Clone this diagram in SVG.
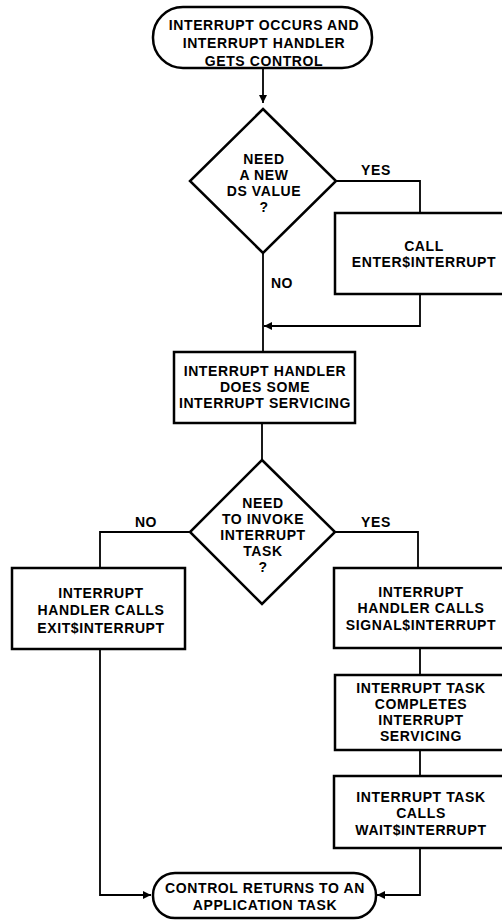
<svg xmlns="http://www.w3.org/2000/svg" width="502" height="920" viewBox="0 0 502 920">
<defs>
<marker id="arr" viewBox="0 0 10 10" refX="10" refY="5" markerWidth="10" markerHeight="8" markerUnits="userSpaceOnUse" orient="auto">
<path d="M0,0 L10,5 L0,10 Z" fill="#000"/>
</marker>
</defs>
<style>
text{font-family:"Liberation Sans",Arial,sans-serif;font-weight:bold;font-size:14px;letter-spacing:0.6px;fill:#000;text-anchor:middle}
.shape{fill:#fff;stroke:#000;stroke-width:2.5}
.ln{fill:none;stroke:#000;stroke-width:1.8}
</style>
<rect width="502" height="920" fill="#fff"/>
<g id="connectors">
<path class="ln" d="M263,68 V103" marker-end="url(#arr)"/>
<path class="ln" d="M336,181 H420 V213"/>
<path class="ln" d="M263,253 V352"/>
<path class="ln" d="M420,294 V326 H264" marker-end="url(#arr)"/>
<path class="ln" d="M262,423 V460"/>
<path class="ln" d="M190,532 H100 V568"/>
<path class="ln" d="M335,532 H418 V568"/>
<path class="ln" d="M420,648 V675"/>
<path class="ln" d="M420,750 V776"/>
<path class="ln" d="M100,649 V895 H151" marker-end="url(#arr)"/>
<path class="ln" d="M420,848 V895 H377" marker-end="url(#arr)"/>
</g>
<g id="start">
<rect class="shape" x="153" y="7" width="219" height="61" rx="30" ry="30"/>
<text x="264" y="30">INTERRUPT OCCURS AND</text>
<text x="264" y="48">INTERRUPT HANDLER</text>
<text x="264" y="66">GETS CONTROL</text>
</g>
<g id="decision1">
<polygon class="shape" points="263,109 336,181 263,253 190,181"/>
<text x="264" y="164">NEED</text>
<text x="264" y="180">A NEW</text>
<text x="264" y="196">DS VALUE</text>
<text x="264" y="212">?</text>
</g>
<g id="label-yes1"><text x="376" y="175">YES</text></g>
<g id="label-no1"><text x="282" y="288">NO</text></g>
<g id="enter">
<rect class="shape" x="335" y="213" width="190" height="81"/>
<text x="424" y="251">CALL</text>
<text x="424" y="267">ENTER$INTERRUPT</text>
</g>
<g id="servicing">
<rect class="shape" x="174" y="352" width="181" height="71"/>
<text x="265" y="376">INTERRUPT HANDLER</text>
<text x="265" y="392">DOES SOME</text>
<text x="265" y="408">INTERRUPT SERVICING</text>
</g>
<g id="decision2">
<polygon class="shape" points="262,460 335,532 262,604 190,532"/>
<text x="263" y="508">NEED</text>
<text x="263" y="524">TO INVOKE</text>
<text x="263" y="540">INTERRUPT</text>
<text x="263" y="556">TASK</text>
<text x="263" y="572">?</text>
</g>
<g id="label-no2"><text x="146" y="527">NO</text></g>
<g id="label-yes2"><text x="376" y="527">YES</text></g>
<g id="exit">
<rect class="shape" x="12" y="568" width="173" height="81"/>
<text x="101" y="598">INTERRUPT</text>
<text x="101" y="615">HANDLER CALLS</text>
<text x="101" y="633">EXIT$INTERRUPT</text>
</g>
<g id="signal">
<rect class="shape" x="334" y="568" width="190" height="80"/>
<text x="421" y="597">INTERRUPT</text>
<text x="421" y="613">HANDLER CALLS</text>
<text x="421" y="630">SIGNAL$INTERRUPT</text>
</g>
<g id="completes">
<rect class="shape" x="335" y="675" width="190" height="75"/>
<text x="421" y="693">INTERRUPT TASK</text>
<text x="421" y="709">COMPLETES</text>
<text x="421" y="725">INTERRUPT</text>
<text x="421" y="741">SERVICING</text>
</g>
<g id="wait">
<rect class="shape" x="334" y="776" width="190" height="72"/>
<text x="421" y="802">INTERRUPT TASK</text>
<text x="421" y="818">CALLS</text>
<text x="421" y="835">WAIT$INTERRUPT</text>
</g>
<g id="end">
<rect class="shape" x="153" y="873" width="223" height="45" rx="22" ry="22"/>
<text x="265" y="893">CONTROL RETURNS TO AN</text>
<text x="265" y="910">APPLICATION TASK</text>
</g>
</svg>
